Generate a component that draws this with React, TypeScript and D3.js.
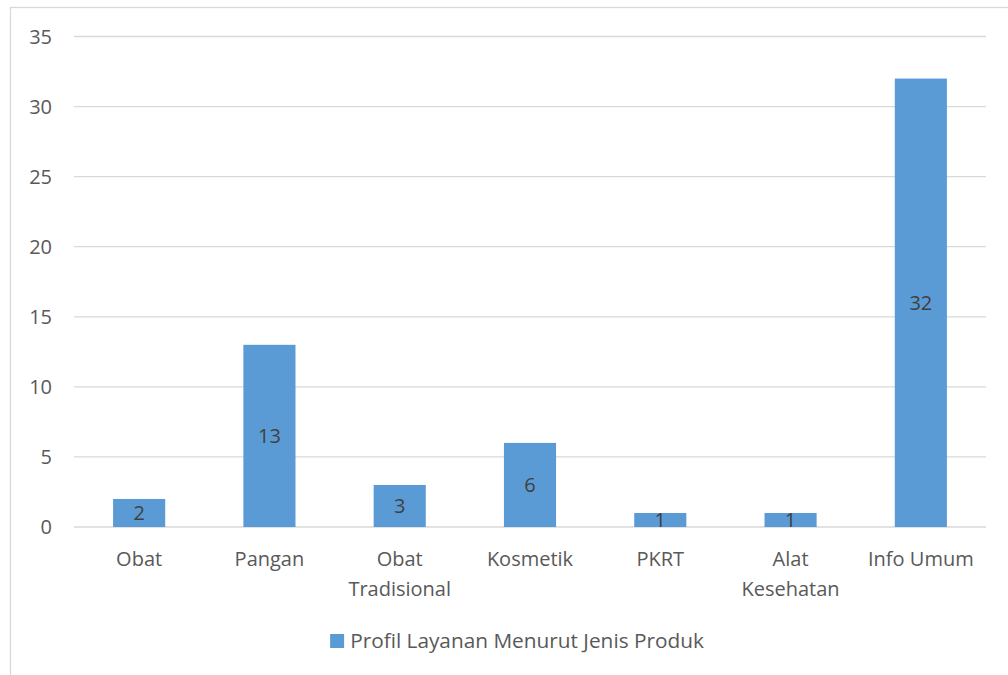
import React, { useEffect, useRef } from "react";
import * as d3 from "d3";

const categories = ["Obat", "Pangan", "Obat Tradisional", "Kosmetik", "PKRT", "Alat Kesehatan", "Info Umum"];
const values = [2, 13, 3, 6, 1, 1, 32];
const yTicks = [0, 5, 10, 15, 20, 25, 30, 35];
const seriesName = "Profil Layanan Menurut Jenis Produk";

const W = 1008;
const H = 675;
const FONT = "'Open Sans', sans-serif";

export default function App() {
  const ref = useRef<SVGSVGElement | null>(null);

  useEffect(() => {
    const svg = d3.select(ref.current);
    svg.selectAll("*").remove();

    const left = 74, right = 986, top = 36.5, bottom = 527;

    // outer border
    svg.append("rect")
      .attr("x", 10.5).attr("y", 7.5)
      .attr("width", W + 10).attr("height", H + 10)
      .attr("fill", "white").attr("stroke", "#d9d9d9").attr("stroke-width", 1.3);

    const x = d3.scaleBand<string>().domain(categories).range([left, right]).paddingInner(0.6).paddingOuter(0.3);
    const y = d3.scaleLinear().domain([0, 35]).range([bottom, top]);

    // gridlines
    svg.append("g").selectAll("line").data(yTicks).join("line")
      .attr("x1", left).attr("x2", right)
      .attr("y1", (d) => y(d)).attr("y2", (d) => y(d))
      .attr("stroke", "#d9d9d9").attr("stroke-width", 1.3);

    // y tick labels
    svg.append("g").selectAll("text").data(yTicks).join("text")
      .attr("x", 52).attr("y", (d) => y(d))
      .attr("dy", "0.36em")
      .attr("text-anchor", "end")
      .attr("font-family", FONT).attr("font-size", 20).attr("fill", "#595959")
      .text((d) => String(d));

    // bars
    svg.append("g").selectAll("rect").data(values).join("rect")
      .attr("x", (_, i) => x(categories[i])!)
      .attr("width", x.bandwidth())
      .attr("y", (d) => y(d))
      .attr("height", (d) => y(0) - y(d))
      .attr("fill", "#5b9bd5");

    // data labels
    svg.append("g").selectAll("text").data(values).join("text")
      .attr("x", (_, i) => x(categories[i])! + x.bandwidth() / 2)
      .attr("y", (d) => (y(d) + y(0)) / 2)
      .attr("dy", "0.36em")
      .attr("text-anchor", "middle")
      .attr("font-family", FONT).attr("font-size", 20).attr("fill", "#404040")
      .text((d) => String(d));

    // category labels with wrapping
    const step = x.step();
    const catG = svg.append("g");
    categories.forEach((c) => {
      const cx = x(c)! + x.bandwidth() / 2;
      const t = catG.append("text")
        .attr("x", cx).attr("y", 566)
        .attr("text-anchor", "middle")
        .attr("font-family", FONT).attr("font-size", 20).attr("fill", "#595959")
        .text(c);
      const len = (t.node() as SVGTextElement).getComputedTextLength();
      if (len > step - 4 && c.includes(" ")) {
        const words = c.split(" ");
        t.text(null);
        words.forEach((w, k) => {
          t.append("tspan").attr("x", cx).attr("y", 566 + k * 30).text(w);
        });
      }
    });

    // legend
    const legText = svg.append("text")
      .attr("y", 648)
      .attr("font-family", FONT).attr("font-size", 20.8).attr("fill", "#595959")
      .text(seriesName);
    const tl = (legText.node() as SVGTextElement).getComputedTextLength();
    const total = 14 + 6 + tl;
    const lx = 517 - total / 2;
    svg.append("rect").attr("x", lx).attr("y", 634).attr("width", 14).attr("height", 14).attr("fill", "#5b9bd5");
    legText.attr("x", lx + 20);
  }, []);

  return (
    <svg
      ref={ref}
      width={W}
      height={H}
      style={{ position: "fixed", left: 0, top: 0, background: "white" }}
    />
  );
}
